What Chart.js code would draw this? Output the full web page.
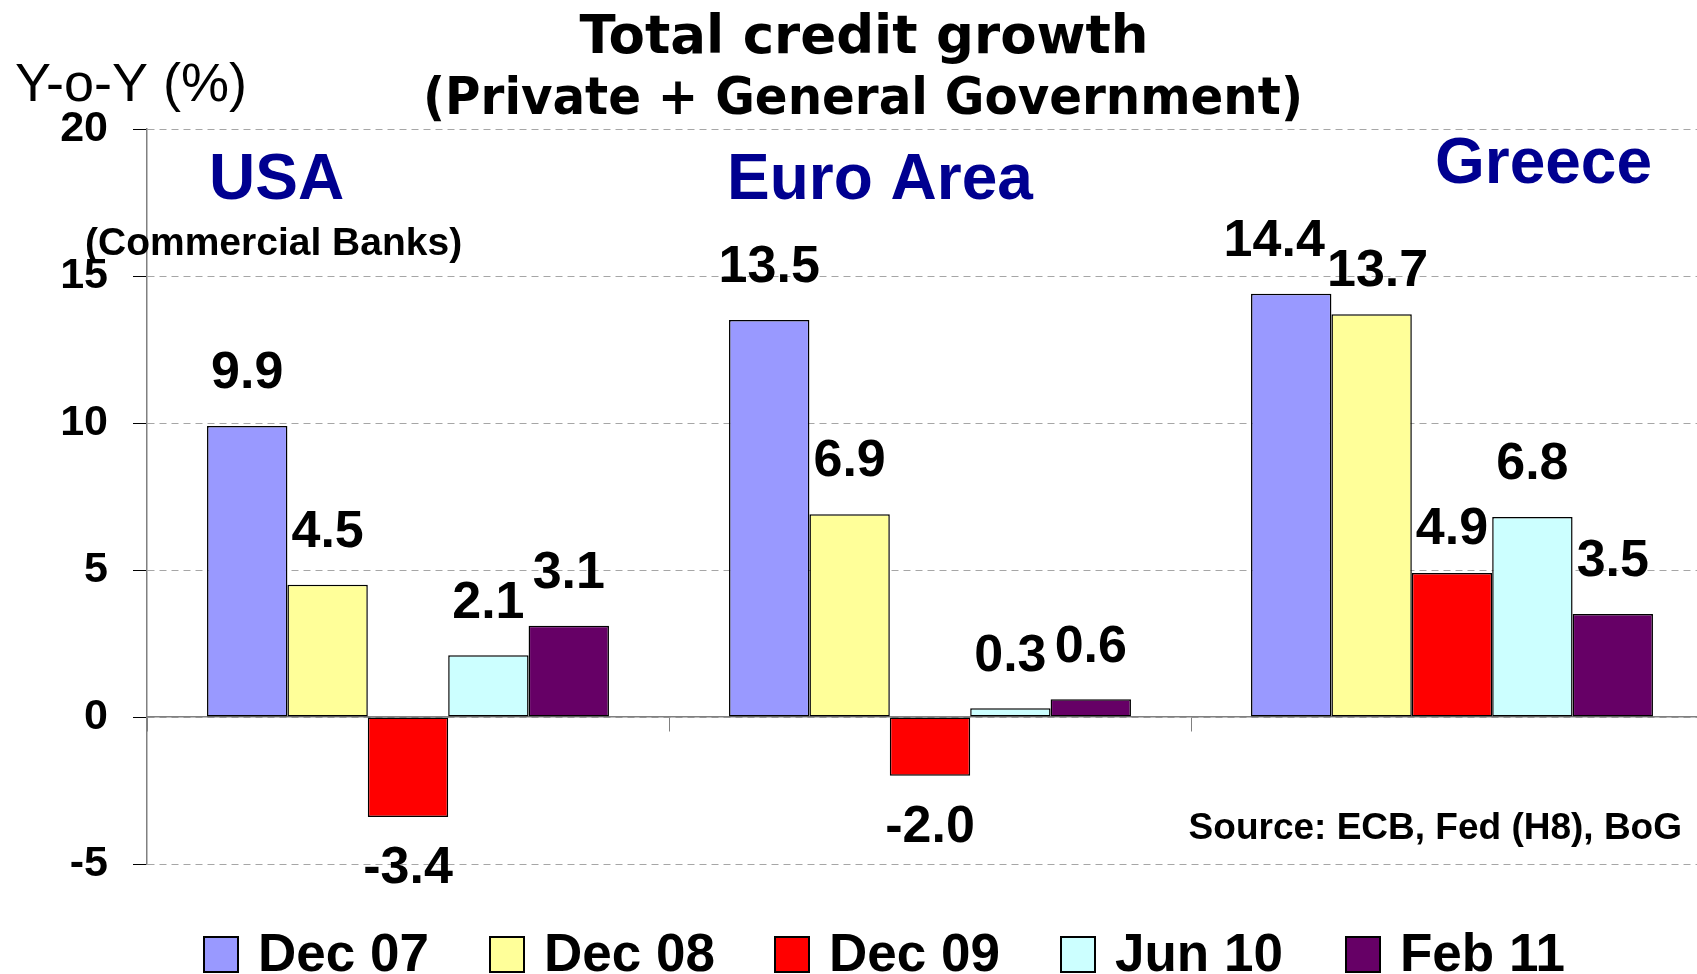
<!DOCTYPE html>
<html>
<head>
<meta charset="utf-8">
<script src="https://cdn.jsdelivr.net/npm/chart.js@4.4.1/dist/chart.umd.min.js"></script>
<style>
  html, body { margin: 0; padding: 0; background: #fff; overflow: hidden; }
  #wrap { position: relative; width: 1720px; height: 974px; }
</style>
</head>
<body>
<div id="wrap"><canvas id="creditChart"></canvas></div>
<script>
// regions on the x axis
var regions = ["USA", "Euro Area", "Greece"];

// series (Y-o-Y %)
var seriesNames = ["Dec 07", "Dec 08", "Dec 09", "Jun 10", "Feb 11"];
var dec07 = [9.9, 13.5, 14.4];
var dec08 = [4.5, 6.9, 13.7];
var dec09 = [-3.4, -2.0, 4.9];
var jun10 = [2.1, 0.3, 6.8];
var feb11 = [3.1, 0.6, 3.5];
var seriesColors = ["#9999FF", "#FFFF99", "#FF0000", "#CCFFFF", "#660066"];

// y axis
var yMin = -5;
var yMax = 20;
var yStep = 5;

var FONT = "'Liberation Sans', Arial, sans-serif";
var TITLE_FONT = "'DejaVu Sans', Verdana, sans-serif";

// hand-placed label nudges in the original (series -> region -> [dx, dy])
var labelNudge = {
    "0-2": [-17, 0],
    "1-2": [6, 9],
    "2-2": [0, 9]
};

// value labels above / below each bar
var valueLabels = {
    id: "valueLabels",
    afterDatasetsDraw: function(chart) {
        var ctx = chart.ctx;
        ctx.save();
        ctx.font = "bold 52px " + FONT;
        ctx.fillStyle = "#000";
        ctx.textAlign = "center";
        ctx.textBaseline = "middle";
        chart.data.datasets.forEach(function(ds, i) {
            var meta = chart.getDatasetMeta(i);
            meta.data.forEach(function(bar, j) {
                var v = ds.data[j];
                var n = labelNudge[i + "-" + j] || [0, 0];
                var y = v >= 0 ? bar.y - 52 : bar.y + 52;
                ctx.fillText(v.toFixed(1), bar.x + n[0], y + n[1]);
            });
        });
        ctx.restore();
    }
};

// titles, notes and the legend
var annotations = {
    id: "annotations",
    afterDraw: function(chart) {
        var ctx = chart.ctx;
        ctx.save();
        ctx.fillStyle = "#000";
        ctx.textBaseline = "alphabetic";

        ctx.textAlign = "center";
        ctx.font = "bold 53px " + TITLE_FONT;
        ctx.fillText("Total credit growth", 864, 53, 574);
        ctx.font = "bold 51px " + TITLE_FONT;
        ctx.fillText("(Private + General Government)", 863, 114, 880);

        ctx.textAlign = "left";
        ctx.font = "54px " + FONT;
        ctx.fillText("Y-o-Y (%)", 15, 101);

        ctx.fillStyle = "#000090";
        ctx.font = "bold 64px " + FONT;
        ctx.fillText("USA", 209, 199);
        ctx.fillText("Euro Area", 727, 199);
        ctx.textAlign = "right";
        ctx.fillText("Greece", 1652, 183);

        ctx.fillStyle = "#000";
        ctx.textAlign = "left";
        ctx.font = "bold 39px " + FONT;
        ctx.fillText("(Commercial Banks)", 85, 255, 379);

        ctx.textAlign = "right";
        ctx.font = "bold 37px " + FONT;
        ctx.fillText("Source: ECB, Fed (H8), BoG", 1682, 839, 495);

        // legend
        var boxLeft = [204, 490, 775, 1061, 1346];
        ctx.textAlign = "left";
        ctx.font = "bold 53px " + FONT;
        chart.data.datasets.forEach(function(ds, i) {
            var x = boxLeft[i];
            ctx.fillStyle = ds.backgroundColor;
            ctx.fillRect(x, 937, 34, 35);
            ctx.strokeStyle = "#000";
            ctx.lineWidth = 2;
            ctx.strokeRect(x, 937, 34, 35);
            ctx.fillStyle = "#000";
            ctx.fillText(ds.label, x + 54, 971);
        });
        ctx.restore();
    }
};

var seriesData = [dec07, dec08, dec09, jun10, feb11];
var datasets = [];
for (var i = 0; i < seriesNames.length; i++) {
    datasets.push({
        label: seriesNames[i],
        data: seriesData[i],
        backgroundColor: seriesColors[i],
        borderColor: "#000",
        borderWidth: 1.5,
        borderSkipped: false,
        categoryPercentage: 0.77,
        barPercentage: 1.0
    });
}

var ctx = document.getElementById("creditChart").getContext("2d");
var chartInstance = new Chart(ctx, {
    type: "bar",
    data: { labels: regions, datasets: datasets },
    options: {
        responsive: true,
        maintainAspectRatio: false,
        animation: false,
        layout: { padding: { left: 0, top: 129, right: 7, bottom: 110 } },
        plugins: {
            legend: { display: false },
            title: { display: false },
            tooltip: { enabled: false }
        },
        scales: {
            x: {
                position: { y: 0 },
                afterFit: function(scale) { scale.height = 0; },
                ticks: { display: false },
                grid: {
                    offset: true,
                    drawOnChartArea: false,
                    drawTicks: true,
                    tickLength: 14,
                    color: "#808080"
                },
                border: { color: "#808080", width: 1.5 }
            },
            y: {
                min: yMin,
                max: yMax,
                afterFit: function(scale) { scale.width = 147; },
                ticks: {
                    stepSize: yStep,
                    padding: 25,
                    color: "#000",
                    font: { family: FONT, size: 43, weight: "bold" }
                },
                grid: {
                    color: "#A6A6A6",
                    tickColor: "#000",
                    tickLength: 14,
                    lineWidth: 1
                },
                border: { color: "#808080", width: 1.5, dash: [7, 5] }
            }
        }
    },
    plugins: [valueLabels, annotations]
});
</script>
</body>
</html>
